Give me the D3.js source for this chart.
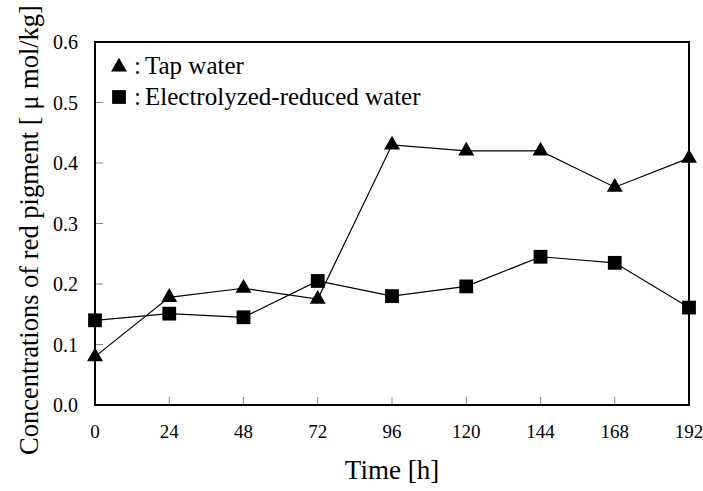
<!DOCTYPE html>
<html><head><meta charset="utf-8">
<script src="https://cdn.jsdelivr.net/npm/d3@7"></script>
</head><body style="margin:0;background:#fff">
<script>
const hours = [0, 24, 48, 72, 96, 120, 144, 168, 192];
const tapWater = [0.08, 0.178, 0.193, 0.175, 0.43, 0.42, 0.42, 0.36, 0.408];
const reducedWater = [0.14, 0.151, 0.145, 0.205, 0.18, 0.196, 0.245, 0.235, 0.161];
const yTicks = [0.0, 0.1, 0.2, 0.3, 0.4, 0.5, 0.6];
const seriesNames = ["Tap water", "Electrolyzed-reduced water"];

const W = 703, H = 491;
const m = {l: 95, r: 14, t: 42, b: 86};
const FONT = "Liberation Serif";
const svg = d3.select("body").append("svg").attr("width", W).attr("height", H);
const x = d3.scaleLinear().domain([0, 192]).range([m.l, W - m.r]);
const y = d3.scaleLinear().domain([0, 0.6]).range([H - m.b, m.t]);

// inward ticks
svg.append("g").selectAll("line").data(hours.slice(1, -1)).join("line")
  .attr("x1", d => x(d)).attr("x2", d => x(d)).attr("y1", y(0)).attr("y2", y(0) - 8)
  .attr("stroke", "#888").attr("stroke-width", 1);
svg.append("g").selectAll("line").data(yTicks.slice(1, -1)).join("line")
  .attr("x1", x(0)).attr("x2", x(0) + 8).attr("y1", d => y(d)).attr("y2", d => y(d))
  .attr("stroke", "#888").attr("stroke-width", 1);

// frame
svg.append("rect").attr("x", x(0)).attr("y", y(0.6)).attr("width", x(192) - x(0)).attr("height", y(0) - y(0.6))
  .attr("fill", "none").attr("stroke", "#000").attr("stroke-width", 2);

// tick labels
svg.append("g").selectAll("text").data(hours).join("text")
  .attr("font-family", FONT)
  .attr("x", d => x(d)).attr("y", y(0) + 33).attr("text-anchor", "middle")
  .attr("font-size", 19).text(d => d);
svg.append("g").selectAll("text").data(yTicks).join("text")
  .attr("font-family", FONT)
  .attr("x", x(0) - 17).attr("y", d => y(d) + 7).attr("text-anchor", "end")
  .attr("font-size", 20).text(d => d.toFixed(1));

// axis titles
svg.append("text").attr("font-family", FONT).attr("x", (x(0) + x(192)) / 2).attr("y", 479).attr("text-anchor", "middle")
  .attr("font-size", 27).text("Time [h]");
svg.append("text").attr("font-family", FONT).attr("transform", "translate(38,230) rotate(-90)")
  .attr("text-anchor", "middle").attr("font-size", 26.5)
  .text("Concentrations of red pigment [ \u03bc mol/kg]");

const line = d3.line().x((d, i) => x(hours[i])).y(d => y(d));
const tri = d3.symbol().type(d3.symbolTriangle).size(110);
const sq = d3.symbol().type(d3.symbolSquare).size(190);

[[reducedWater, sq], [tapWater, tri]].forEach(([vals, sym]) => {
  svg.append("path").datum(vals).attr("d", line).attr("fill", "none").attr("stroke", "#000").attr("stroke-width", 1.2);
  svg.append("g").selectAll("path").data(vals).join("path")
    .attr("transform", (d, i) => `translate(${x(hours[i])},${y(d)})`)
    .attr("d", sym).attr("fill", "#000");
});

// legend
const lg = svg.append("g");
lg.append("path").attr("transform", "translate(119,67)").attr("d", tri).attr("fill", "#000");
lg.append("path").attr("transform", "translate(119,97)").attr("d", sq).attr("fill", "#000");
[74, 105].forEach((by, i) => {
  lg.append("text").attr("font-family", FONT).attr("x", 134).attr("y", by).attr("font-size", 25).text(":");
  lg.append("text").attr("font-family", FONT).attr("x", 145).attr("y", by).attr("font-size", 25).text(seriesNames[i]);
});
</script>
</body></html>
